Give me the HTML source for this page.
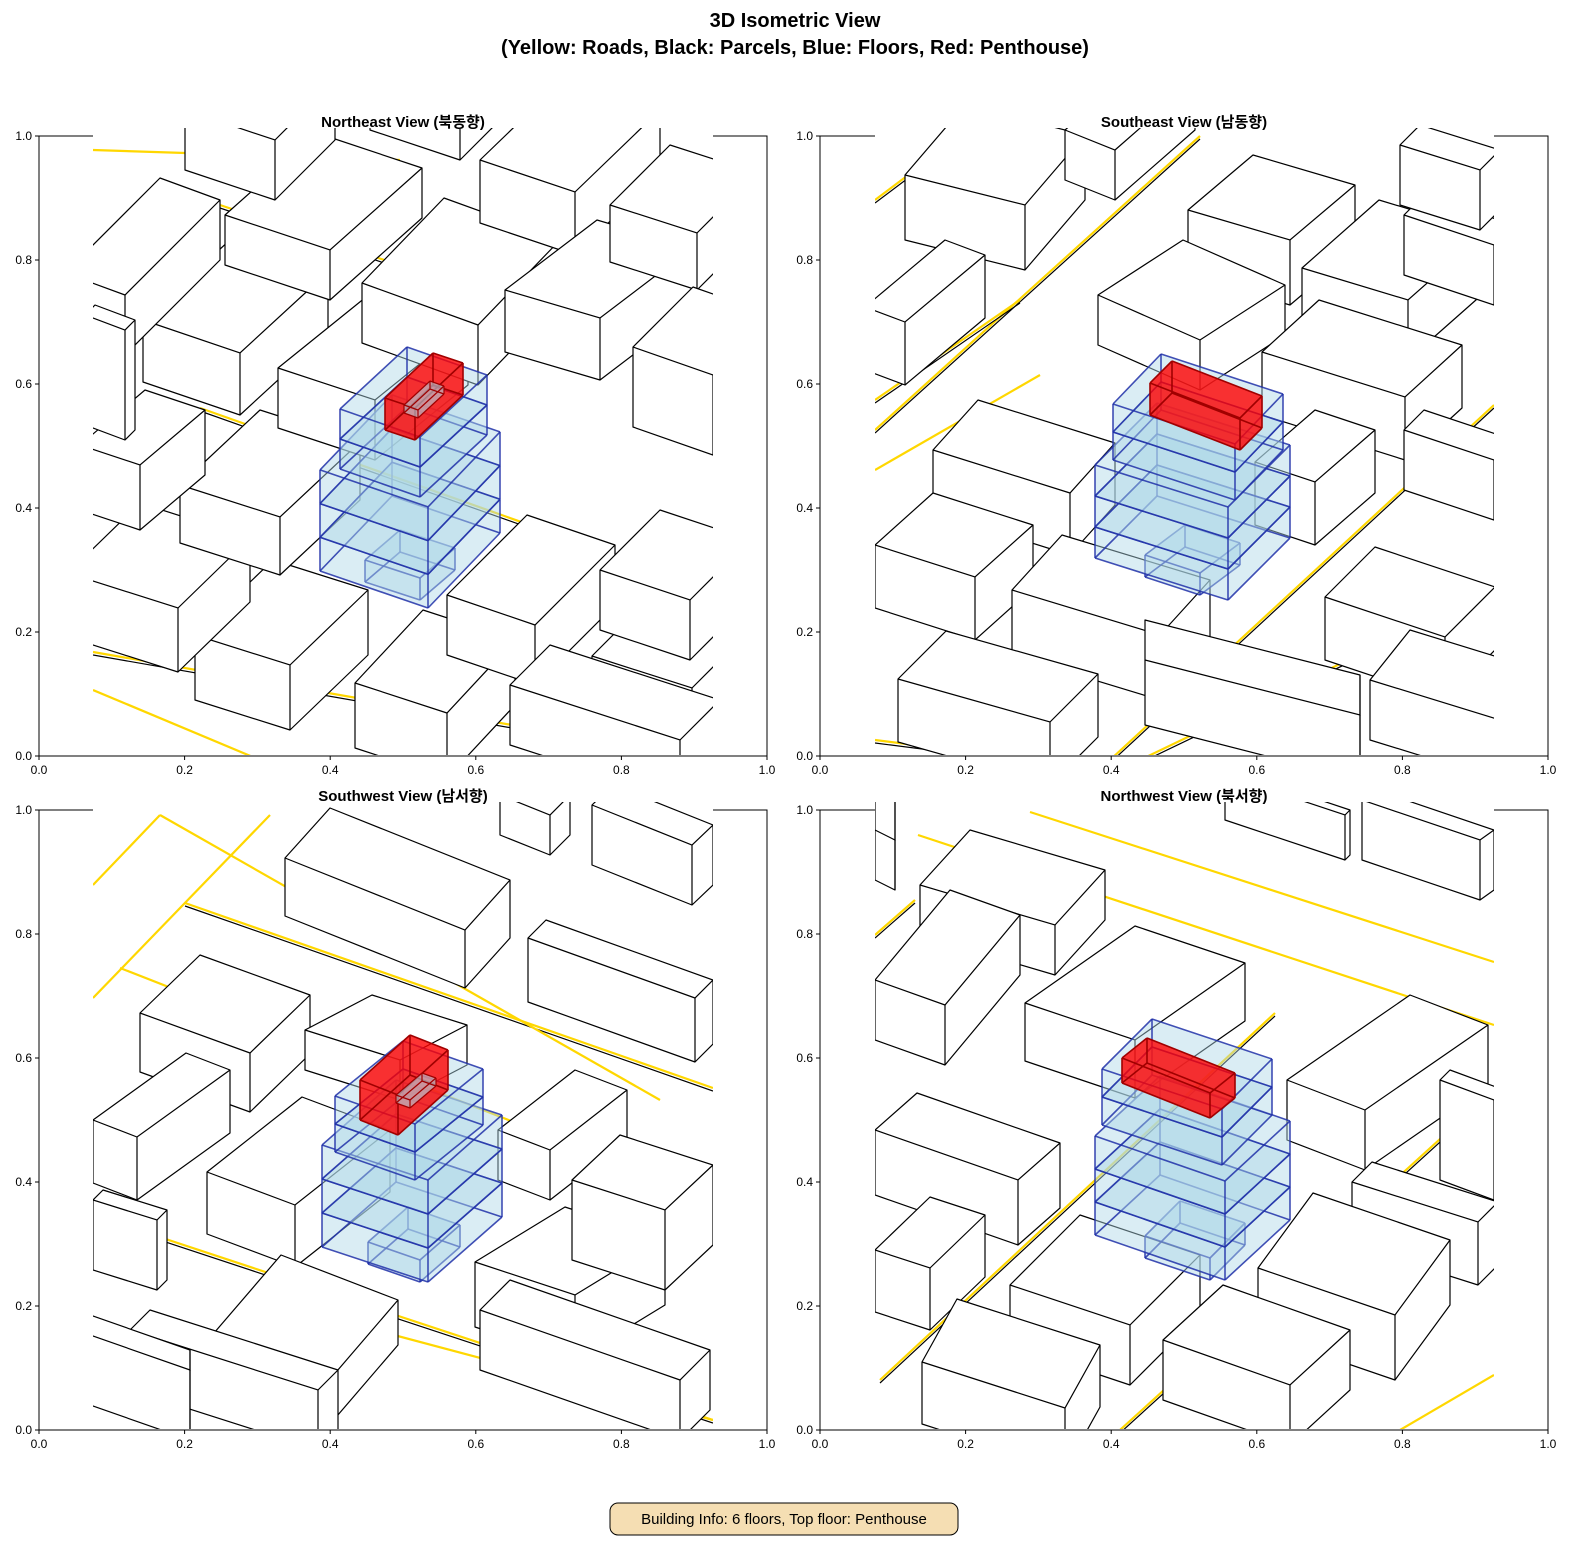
<!DOCTYPE html>
<html><head><meta charset="utf-8">
<style>
html,body{margin:0;padding:0;background:#fff;overflow:hidden;width:1590px;height:1560px;}
svg{display:block;position:absolute;left:0;top:0;}
text{font-family:"Liberation Sans","Noto Sans CJK KR",sans-serif;}
</style></head>
<body>
<svg id="s" width="1590" height="1560" viewBox="0 0 1590 1560" xmlns="http://www.w3.org/2000/svg">
<defs>
<clipPath id="c0"><rect x="93" y="128" width="620" height="627"/></clipPath>
<clipPath id="c1"><rect x="875" y="128" width="619" height="627"/></clipPath>
<clipPath id="c2"><rect x="93" y="802" width="620" height="627"/></clipPath>
<clipPath id="c3"><rect x="875" y="802" width="619" height="627"/></clipPath>
</defs>
<text x="795" y="27" font-size="20" font-weight="bold" text-anchor="middle">3D Isometric View</text>
<text x="795" y="54" font-size="20" font-weight="bold" text-anchor="middle">(Yellow: Roads, Black: Parcels, Blue: Floors, Red: Penthouse)</text>
<g id="frames"></g>
<g id="g0" clip-path="url(#c0)"></g>
<g id="g1" clip-path="url(#c1)"></g>
<g id="g2" clip-path="url(#c2)"></g>
<g id="g3" clip-path="url(#c3)"></g>
<text x="403" y="127" font-size="15" font-weight="bold" text-anchor="middle">Northeast View (북동향)</text>
<text x="1184" y="127" font-size="15" font-weight="bold" text-anchor="middle">Southeast View (남동향)</text>
<text x="403" y="801" font-size="15" font-weight="bold" text-anchor="middle">Southwest View (남서향)</text>
<text x="1184" y="801" font-size="15" font-weight="bold" text-anchor="middle">Northwest View (북서향)</text>
<rect x="610" y="1503" width="348" height="32" rx="8" fill="#f5deb3" stroke="#000" stroke-width="1"/>
<text x="784" y="1524" font-size="15" text-anchor="middle">Building Info: 6 floors, Top floor: Penthouse</text>
</svg>
<script>
var NS="http://www.w3.org/2000/svg";
function el(p,t,a){var e=document.createElementNS(NS,t);for(var k in a)e.setAttribute(k,a[k]);p.appendChild(e);return e;}
function pts(a){return a.map(function(p){return p[0].toFixed(1)+","+p[1].toFixed(1)}).join(" ");}
var fr=document.getElementById("frames");
var axes=[[39,136],[820,136],[39,810],[820,810]];
axes.forEach(function(ax){
  var x0=ax[0],y0=ax[1],w=728,h=620;
  el(fr,"rect",{x:x0,y:y0,width:w,height:h,fill:"none",stroke:"#000","stroke-width":1});
  for(var i=0;i<=5;i++){
    var tx=x0+i*145.6, ty=y0+h-i*124;
    el(fr,"line",{x1:tx,y1:y0+h,x2:tx,y2:y0+h+4,stroke:"#000"});
    el(fr,"line",{x1:x0,y1:ty,x2:x0-4,y2:ty,stroke:"#000"});
    var t=el(fr,"text",{x:tx,y:y0+h+18,"font-size":12,"text-anchor":"middle"});t.textContent=(i*0.2).toFixed(1);
    var t2=el(fr,"text",{x:x0-7,y:ty+4,"font-size":12,"text-anchor":"end"});t2.textContent=(i*0.2).toFixed(1);
  }
});
function box(g,F,A,B,h,st){
  st=st||{};
  var fx=F[0],fy=F[1];
  var f=[fx,fy],fa=[fx+A[0],fy+A[1]],fb=[fx+B[0],fy+B[1]],fab=[fx+A[0]+B[0],fy+A[1]+B[1]];
  function up(p){return [p[0],p[1]-h];}
  var fill=st.fill||"#fff",stroke=st.stroke||"#000",sw=st.sw||1.2,op=st.op==null?1:st.op;
  if(st.wire){
    [[f,fa,up(fa),up(f)],[f,fb,up(fb),up(f)],[up(f),up(fa),up(fab),up(fb)]].forEach(function(q){
      el(g,"polygon",{points:pts(q),fill:fill,"fill-opacity":op,stroke:"none"});});
    var E=[[f,fa],[f,fb],[fa,fab],[fb,fab],[f,up(f)],[fa,up(fa)],[fb,up(fb)],[fab,up(fab)],[up(f),up(fa)],[up(f),up(fb)],[up(fa),up(fab)],[up(fb),up(fab)]];
    E.forEach(function(e){el(g,"line",{x1:e[0][0],y1:e[0][1],x2:e[1][0],y2:e[1][1],stroke:stroke,"stroke-width":sw,"stroke-opacity":st.sop||1});});
    return;
  }
  el(g,"polygon",{points:pts([fa,f,fb,up(fb),up(fab),up(fa)]),fill:fill,"fill-opacity":op,stroke:stroke,"stroke-width":sw,"stroke-linejoin":"round"});
  el(g,"polyline",{points:pts([up(fa),up(f),up(fb)]),fill:"none",stroke:stroke,"stroke-width":sw});
  el(g,"line",{x1:fx,y1:fy,x2:fx,y2:fy-h,stroke:stroke,"stroke-width":sw});
}
function road(g,x1,y1,x2,y2,dual){
  if(dual){el(g,"line",{x1:x1,y1:y1+3,x2:x2,y2:y2+3,stroke:"#000","stroke-width":1.2});}
  el(g,"line",{x1:x1,y1:y1,x2:x2,y2:y2,stroke:"#ffd700","stroke-width":2.2});
}
function scene(id,roads,boxes,blue){
  var g=document.getElementById(id);
  el(g,"rect",{x:0,y:0,width:1590,height:1560,fill:"#fff"});
  roads.forEach(function(r){road(g,r[0],r[1],r[2],r[3],r[4]);});
  boxes.sort(function(a,b){return (a[0][1]-a[4]/2)-(b[0][1]-b[4]/2);});
  boxes.forEach(function(b){box(g,b[0],b[1],b[2],b[3]);});
  var bs={wire:1,fill:"#add8e6",op:0.45,stroke:"#2030a8",sw:1.6,sop:0.85};
  var L=blue.low,U=blue.up,R=blue.red,S=blue.small;
  if(S)box(g,S[0],S[1],S[2],S[3],bs);
  for(var i=0;i<3;i++)box(g,[L[0][0],L[0][1]-i*L[3]],L[1],L[2],L[3],bs);
  for(var j=0;j<2;j++)box(g,[U[0][0],U[0][1]-j*U[3]],U[1],U[2],U[3],bs);
  box(g,R[0],R[1],R[2],R[3],{wire:1,fill:"#ff0000",op:0.8,stroke:"#a00000",sw:1.6});
  if(R[4])box(g,R[4][0],R[4][1],R[4][2],R[4][3],{wire:1,fill:"#add8e6",op:0.6,stroke:"#a00000",sw:1.2});
}
// NE
scene("g0",[[93,652,713,760,1],[93,690,260,760,0],[200,408,713,590,1],[205,200,713,370,1],[93,150,400,160,0]],[
 [[290,730],[-95,-30],[78,-75],65],
 [[178,672],[-110,-35],[72,-70],64],
 [[447,778],[-92,-30],[68,-73],65],
 [[535,685],[-88,-30],[80,-80],60],
 [[280,575],[-100,-32],[80,-75],58],
 [[240,415],[-97,-33],[88,-81],62],
 [[375,460],[-97,-32],[93,-75],60],
 [[478,385],[-116,-42],[82,-85],60],
 [[330,300],[-105,-35],[92,-82],50],
 [[125,355],[-60,-22],[95,-95],60],
 [[575,255],[-95,-32],[85,-82],63],
 [[600,380],[-95,-28],[92,-70],62],
 [[697,290],[-87,-28],[60,-60],57],
 [[713,455],[-80,-28],[60,-60],80],
 [[692,750],[-100,-32],[60,-60],62],
 [[680,800],[-170,-55],[40,-40],60],
 [[140,530],[-60,-20],[65,-55],65],
 [[125,440],[-40,-15],[10,-10],110],
 [[275,200],[-90,-30],[60,-60],60],
 [[460,160],[-90,-30],[60,-60],50],
 [[690,660],[-90,-30],[60,-60],60]
],{low:[[428,608],[-108,-37],[72,-75],33.7],up:[[420,497],[-80,-28],[67,-62],30],red:[[415,440],[-30,-10],[48,-45],32,[[418,418],[-14,-5],[26,-24],8]],small:[[420,600],[-55,-18],[35,-30],22]});
// SE
scene("g1",[[1110,760,1494,405,1],[875,470,1040,375,0],[875,430,1200,136,1],[875,400,1020,300,1],[875,200,960,136,1],[1140,760,1494,590,1],[875,740,1000,756,1]],[
 [[1025,270],[-120,-30],[60,-70],65],
 [[905,385],[-40,-15],[80,-67],63],
 [[1290,305],[-102,-30],[65,-55],65],
 [[1408,360],[-106,-32],[77,-68],60],
 [[1200,390],[-102,-45],[85,-55],50],
 [[1405,460],[-143,-45],[57,-52],63],
 [[1315,545],[-60,-20],[60,-52],63],
 [[1070,555],[-137,-43],[45,-50],62],
 [[975,640],[-100,-32],[58,-52],63],
 [[1160,700],[-148,-45],[50,-55],65],
 [[1050,785],[-152,-43],[48,-48],63],
 [[1445,700],[-120,-40],[50,-50],63],
 [[1360,780],[-215,-55],[0,-40],65],
 [[1500,780],[-130,-40],[40,-50],60],
 [[1494,305],[-90,-30],[20,-20],60],
 [[1480,230],[-80,-25],[20,-20],60],
 [[1494,520],[-90,-30],[20,-20],60],
 [[1115,200],[-50,-20],[80,-70],50]
],{low:[[1228,600],[-133,-42],[62,-62],31],up:[[1235,500],[-122,-40],[48,-50],28],red:[[1240,450],[-90,-35],[22,-22],32],small:[[1200,595],[-55,-18],[40,-30],22]});
// SW
scene("g2",[[185,903,713,1088,1],[93,998,270,815,0],[93,885,160,815,0],[160,815,660,1100,0],[93,1215,713,1420,1],[120,968,713,1200,0],[300,1310,713,1420,0]],[
 [[465,988],[-180,-72],[45,-50],58],
 [[695,1062],[-167,-60],[18,-18],64],
 [[250,1112],[-110,-40],[60,-58],59],
 [[137,1200],[-44,-17],[93,-67],63],
 [[295,1267],[-88,-33],[95,-75],62],
 [[400,1100],[-95,-30],[67,-35],40],
 [[575,1360],[-100,-33],[90,-55],65],
 [[550,1200],[-52,-20],[77,-60],50],
 [[665,1290],[-93,-30],[48,-45],80],
 [[325,1430],[-117,-45],[73,-85],45],
 [[318,1450],[-188,-60],[20,-20],60],
 [[680,1440],[-200,-70],[30,-30],60],
 [[190,1440],[-100,-35],[0,-20],70],
 [[157,1290],[-64,-20],[10,-10],70],
 [[692,905],[-100,-40],[21,-20],60],
 [[550,855],[-50,-20],[20,-20],40]
],{low:[[428,1282],[-106,-35],[74,-65],34],up:[[415,1180],[-80,-28],[68,-55],28],red:[[398,1135],[-38,-15],[50,-45],40,[[410,1108],[-14,-5],[26,-22],8]],small:[[420,1282],[-52,-18],[40,-35],22]});
// NW
scene("g3",[[918,835,1494,1025,0],[1030,812,1494,962,0],[875,935,915,900,1],[880,1380,1275,1013,1],[1400,1430,1494,1375,0],[1120,1430,1494,1090,1]],[
 [[1055,975],[-135,-40],[50,-55],50],
 [[1135,1098],[-110,-37],[110,-77],58],
 [[1365,1170],[-78,-30],[123,-85],60],
 [[1478,1285],[-126,-40],[20,-20],63],
 [[1395,1380],[-137,-47],[55,-75],65],
 [[1130,1385],[-120,-40],[70,-70],60],
 [[1018,1245],[-143,-50],[42,-37],65],
 [[930,1330],[-55,-18],[55,-53],62],
 [[1290,1445],[-127,-45],[60,-55],60],
 [[1065,1470],[-143,-46],[35,-63],62],
 [[1480,900],[-118,-40],[14,-10],60],
 [[1345,860],[-120,-40],[5,-5],45],
 [[1494,1200],[-54,-20],[10,-10],100],
 [[945,1065],[-70,-25],[75,-90],60],
 [[895,890],[-20,-10],[0,-60],50]
],{low:[[1225,1280],[-130,-45],[65,-60],33],up:[[1222,1165],[-120,-40],[50,-50],28],red:[[1210,1118],[-88,-35],[25,-20],25],small:[[1210,1280],[-65,-22],[35,-35],22]});
</script>
</body></html>
